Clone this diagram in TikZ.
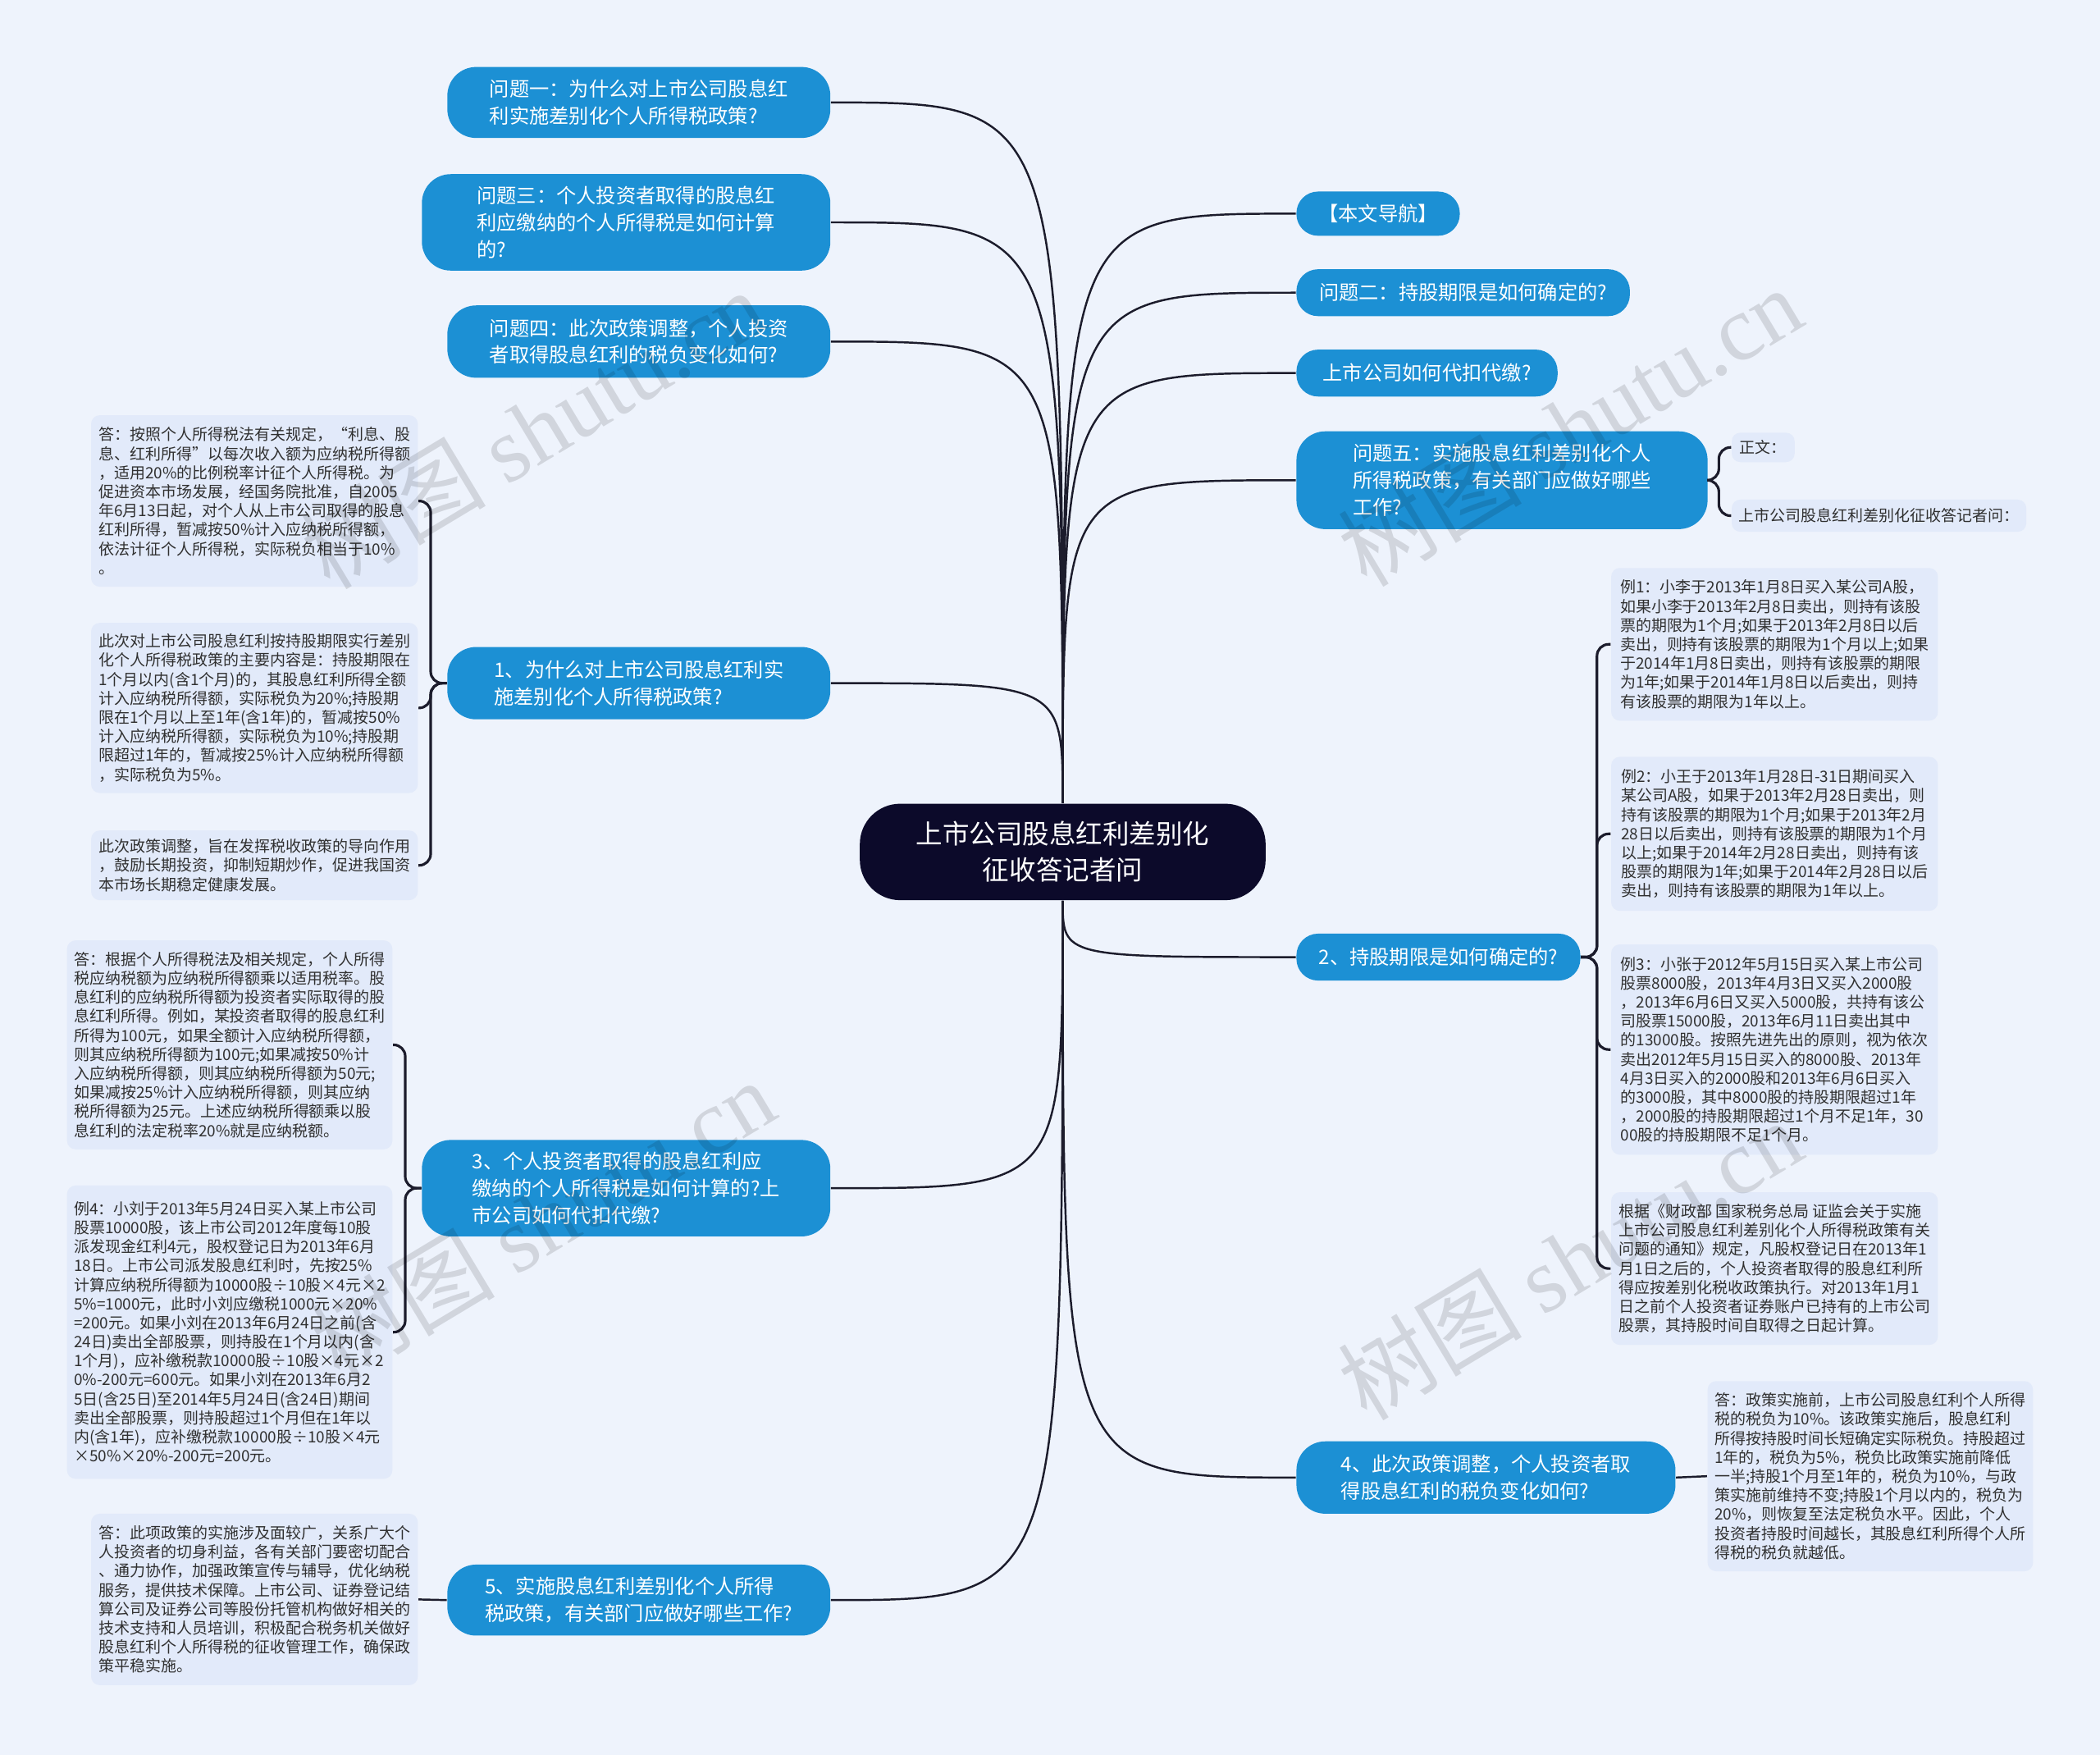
\documentclass[tikz,border=0pt]{standalone}
\usepackage{fontspec}
\setmainfont{Noto Sans CJK SC}
\newfontfamily\wmfont{Liberation Serif}
\definecolor{bgcol}{RGB}{238,243,252}
\definecolor{leafcol}{RGB}{226,234,250}
\definecolor{topiccol}{RGB}{28,144,212}
\definecolor{rootcol}{RGB}{12,10,42}
\definecolor{linecol}{RGB}{28,28,44}
\definecolor{txtcol}{RGB}{48,48,48}

\begin{document}
\begin{tikzpicture}[x=0.016327cm, y=-0.016327cm,
	sz/.style 2 args={minimum width=#1*0.4645pt, minimum height=#2*0.4645pt},
	topic/.style={fill=topiccol, text=white, rounded corners=10pt, align=left, inner sep=0pt, font=\fontsize{6.9}{9.3}\selectfont},
	leaf/.style={fill=leafcol, text=txtcol, rounded corners=3pt, align=left, inner sep=0pt, font=\fontsize{5.4}{6.6}\selectfont},
	link/.style={draw=linecol, line width=0.7pt},
	brace/.style={draw=linecol, line width=0.9pt, rounded corners=4pt},
	wm/.style={text=black, opacity=0.12, rotate=31, font=\fontsize{32}{32}\selectfont}]
	\path[use as bounding box, fill=bgcol] (0,0) rectangle (1568,1310);
	% 中心主题与一级分支
	\node[fill=rootcol, text=white, rounded corners=14pt, align=center, font=\fontsize{9.25}{12.5}\selectfont, sz={303}{72}] (root) at (793.5,636) {上市公司股息红利差别化\\征收答记者问};
	\node[topic, sz={286}{53}] (q1) at (477,76.5) {问题一：为什么对上市公司股息红\\利实施差别化个人所得税政策?};
	\node[topic, sz={305}{72}] (q3) at (467.5,166) {问题三：个人投资者取得的股息红\\利应缴纳的个人所得税是如何计算\\的?};
	\node[topic, sz={286}{54}] (q4) at (477,255) {问题四：此次政策调整，个人投资\\者取得股息红利的税负变化如何?};
	\node[topic, sz={286}{54}] (a1) at (477,510) {1、为什么对上市公司股息红利实\\施差别化个人所得税政策?};
	\node[topic, sz={305}{72}] (a3) at (467.5,887) {3、个人投资者取得的股息红利应\\缴纳的个人所得税是如何计算的?上\\市公司如何代扣代缴?};
	\node[topic, sz={286}{53}] (a5) at (477,1194.5) {5、实施股息红利差别化个人所得\\税政策，有关部门应做好哪些工作?};
	\node[topic, rounded corners=7.5pt, sz={122}{33}] (nav) at (1029,159.5) {【本文导航】};
	\node[topic, rounded corners=7.5pt, sz={249}{35}] (q2) at (1092.5,218.5) {问题二：持股期限是如何确定的?};
	\node[topic, rounded corners=7.5pt, sz={195}{35}] (qd) at (1065.5,278.5) {上市公司如何代扣代缴?};
	\node[topic, sz={307}{73}] (q5) at (1121.5,358.5) {问题五：实施股息红利差别化个人\\所得税政策，有关部门应做好哪些\\工作?};
	\node[topic, rounded corners=7.5pt, sz={212}{35}] (a2) at (1074,714.5) {2、持股期限是如何确定的?};
	\node[topic, sz={283}{54}] (a4) at (1109.5,1103) {4、此次政策调整，个人投资者取\\得股息红利的税负变化如何?};
	\foreach \n in {q1,q3,q4,a1}
		\draw[link] (root.north) .. controls (root.north |- \n.east) .. (\n.east);
	\foreach \n in {nav,q2,qd,q5}
		\draw[link] (root.north) .. controls (root.north |- \n.west) .. (\n.west);
	\foreach \n in {a3,a5}
		\draw[link] (root.south) .. controls (root.south |- \n.east) .. (\n.east);
	\foreach \n in {a2,a4}
		\draw[link] (root.south) .. controls (root.south |- \n.west) .. (\n.west);
	% 左侧说明文字
	\node[leaf, sz={244}{128}] (l1a) at (190,374) {答：按照个人所得税法有关规定，“利息、股\\息、红利所得”以每次收入额为应纳税所得额\\，适用20\%的比例税率计征个人所得税。为\\促进资本市场发展，经国务院批准，自2005\\年6月13日起，对个人从上市公司取得的股息\\红利所得，暂减按50\%计入应纳税所得额，\\依法计征个人所得税，实际税负相当于10\%\\。};
	\node[leaf, sz={244}{127}] (l1b) at (190,528.5) {此次对上市公司股息红利按持股期限实行差别\\化个人所得税政策的主要内容是：持股期限在\\1个月以内(含1个月)的，其股息红利所得全额\\计入应纳税所得额，实际税负为20\%;持股期\\限在1个月以上至1年(含1年)的，暂减按50\%\\计入应纳税所得额，实际税负为10\%;持股期\\限超过1年的，暂减按25\%计入应纳税所得额\\，实际税负为5\%。};
	\node[leaf, sz={244}{52}] (l1c) at (190,646) {此次政策调整，旨在发挥税收政策的导向作用\\，鼓励长期投资，抑制短期炒作，促进我国资\\本市场长期稳定健康发展。};
	\node[leaf, sz={243}{156}] (l3a) at (171.5,780) {答：根据个人所得税法及相关规定，个人所得\\税应纳税额为应纳税所得额乘以适用税率。股\\息红利的应纳税所得额为投资者实际取得的股\\息红利所得。例如，某投资者取得的股息红利\\所得为100元，如果全额计入应纳税所得额，\\则其应纳税所得额为100元;如果减按50\%计\\入应纳税所得额，则其应纳税所得额为50元;\\如果减按25\%计入应纳税所得额，则其应纳\\税所得额为25元。上述应纳税所得额乘以股\\息红利的法定税率20\%就是应纳税额。};
	\node[leaf, sz={243}{219}] (l3b) at (171.5,994.5) {例4：小刘于2013年5月24日买入某上市公司\\股票10000股，该上市公司2012年度每10股\\派发现金红利4元，股权登记日为2013年6月\\18日。上市公司派发股息红利时，先按25\%\\计算应纳税所得额为10000股÷10股×4元×2\\5\%=1000元，此时小刘应缴税1000元×20\%\\=200元。如果小刘在2013年6月24日之前(含\\24日)卖出全部股票，则持股在1个月以内(含\\1个月)，应补缴税款10000股÷10股×4元×2\\0\%-200元=600元。如果小刘在2013年6月2\\5日(含25日)至2014年5月24日(含24日)期间\\卖出全部股票，则持股超过1个月但在1年以\\内(含1年)，应补缴税款10000股÷10股×4元\\×50\%×20\%-200元=200元。};
	\node[leaf, sz={244}{128}] (l5) at (190,1194) {答：此项政策的实施涉及面较广，关系广大个\\人投资者的切身利益，各有关部门要密切配合\\、通力协作，加强政策宣传与辅导，优化纳税\\服务，提供技术保障。上市公司、证券登记结\\算公司及证券公司等股份托管机构做好相关的\\技术支持和人员培训，积极配合税务机关做好\\股息红利个人所得税的征收管理工作，确保政\\策平稳实施。};
	% 右侧说明文字
	\node[leaf, sz={47}{22}] (lq5a) at (1316.5,334) {正文：};
	\node[leaf, sz={220}{24}] (lq5b) at (1403,385) {上市公司股息红利差别化征收答记者问：};
	\node[leaf, sz={244}{114}] (l2a) at (1325,481) {例1：小李于2013年1月8日买入某公司A股，\\如果小李于2013年2月8日卖出，则持有该股\\票的期限为1个月;如果于2013年2月8日以后\\卖出，则持有该股票的期限为1个月以上;如果\\于2014年1月8日卖出，则持有该股票的期限\\为1年;如果于2014年1月8日以后卖出，则持\\有该股票的期限为1年以上。};
	\node[leaf, sz={244}{115}] (l2b) at (1325,622.5) {例2：小王于2013年1月28日-31日期间买入\\某公司A股，如果于2013年2月28日卖出，则\\持有该股票的期限为1个月;如果于2013年2月\\28日以后卖出，则持有该股票的期限为1个月\\以上;如果于2014年2月28日卖出，则持有该\\股票的期限为1年;如果于2014年2月28日以后\\卖出，则持有该股票的期限为1年以上。};
	\node[leaf, sz={244}{157}] (l2c) at (1325,783.5) {例3：小张于2012年5月15日买入某上市公司\\股票8000股，2013年4月3日又买入2000股\\，2013年6月6日又买入5000股，共持有该公\\司股票15000股，2013年6月11日卖出其中\\的13000股。按照先进先出的原则，视为依次\\卖出2012年5月15日买入的8000股、2013年\\4月3日买入的2000股和2013年6月6日买入\\的3000股，其中8000股的持股期限超过1年\\，2000股的持股期限超过1个月不足1年，30\\00股的持股期限不足1个月。};
	\node[leaf, sz={244}{114}] (l2d) at (1325,947) {根据《财政部 国家税务总局 证监会关于实施\\上市公司股息红利差别化个人所得税政策有关\\问题的通知》规定，凡股权登记日在2013年1\\月1日之后的，个人投资者取得的股息红利所\\得应按差别化税收政策执行。对2013年1月1\\日之前个人投资者证券账户已持有的上市公司\\股票，其持股时间自取得之日起计算。};
	\node[leaf, sz={243}{142}] (l4) at (1396.5,1102) {答：政策实施前，上市公司股息红利个人所得\\税的税负为10\%。该政策实施后，股息红利\\所得按持股时间长短确定实际税负。持股超过\\1年的，税负为5\%，税负比政策实施前降低\\一半;持股1个月至1年的，税负为10\%，与政\\策实施前维持不变;持股1个月以内的，税负为\\20\%，则恢复至法定税负水平。因此，个人\\投资者持股时间越长，其股息红利所得个人所\\得税的税负就越低。};
	\foreach \c in {l1a,l1b,l1c}
		\draw[brace] (a1.west) -- ++(-12,0) |- (\c.east);
	\foreach \c in {l3a,l3b}
		\draw[brace] (a3.west) -- ++(-12,0) |- (\c.east);
	\foreach \c in {lq5a,lq5b}
		\draw[brace] (q5.east) -- ++(8,0) |- (\c.west);
	\foreach \c in {l2a,l2b,l2c,l2d}
		\draw[brace] (a2.east) -- ++(12,0) |- (\c.west);
	\draw[link] (a5.west) -- (l5.east);
	\draw[link] (a4.east) -- (l4.west);
	% 水印
	\node[wm] (wm1) at (398,320) {树图 {\wmfont shutu.cn}};
	\node[wm] (wm2) at (405,910) {树图 {\wmfont shutu.cn}};
	\node[wm] (wm3) at (1172,318) {树图 {\wmfont shutu.cn}};
	\node[wm] (wm4) at (1172,940) {树图 {\wmfont shutu.cn}};
\end{tikzpicture}
\end{document}
